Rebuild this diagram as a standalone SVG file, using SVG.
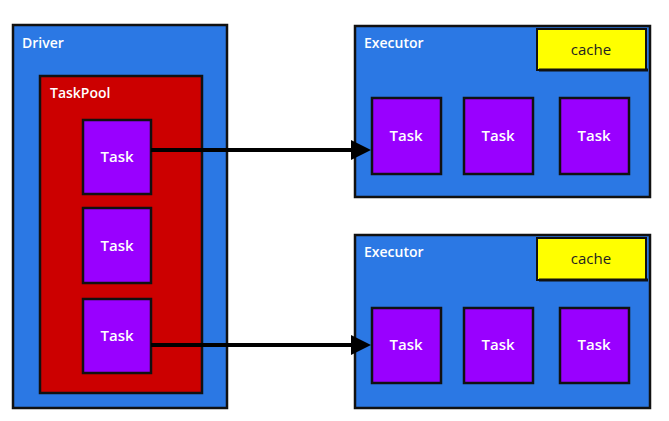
<svg xmlns="http://www.w3.org/2000/svg" width="669" height="421" viewBox="0 0 669 421">
<defs>
<style>
.blue{fill:#2b78e4;stroke:#111;stroke-width:2.5}
.red{fill:#cc0000;stroke:#111;stroke-width:2.5}
.task{fill:#9900ff;stroke:#111;stroke-width:2.5}
.cache{fill:#ffff00;stroke:#111;stroke-width:2}
.lbl{font-family:"Open Sans","DejaVu Sans",sans-serif;font-size:14px;font-weight:600;fill:#fff}
.tt{font-family:"Open Sans","DejaVu Sans",sans-serif;font-size:15px;font-weight:600;fill:#fff;text-anchor:middle}
.ct{font-family:"Open Sans","DejaVu Sans",sans-serif;font-size:15px;fill:#222;text-anchor:middle}
.conn{stroke:#000;stroke-width:4;fill:none}
</style>
<marker id="ah" markerWidth="5" markerHeight="5" refX="4" refY="2.5" orient="auto" markerUnits="strokeWidth">
<path d="M0,0 L5,2.5 L0,5 Z" fill="#000"/>
</marker>
</defs>
<rect width="669" height="421" fill="#fff"/>
<g id="driver">
<rect class="blue" x="13" y="25" width="214" height="383"/>
<text class="lbl" x="22" y="48">Driver</text>
</g>
<g id="taskpool">
<rect class="red" x="40" y="76" width="162" height="317"/>
<text class="lbl" x="50" y="98">TaskPool</text>
</g>
<g id="dtask1"><rect class="task" x="83" y="120" width="68" height="74"/><text class="tt" x="117" y="162">Task</text></g>
<g id="dtask2"><rect class="task" x="83" y="208" width="68" height="75"/><text class="tt" x="117" y="251">Task</text></g>
<g id="dtask3"><rect class="task" x="83" y="299" width="68" height="74"/><text class="tt" x="117" y="341">Task</text></g>
<g id="executor1">
<rect class="blue" x="355" y="26" width="295" height="171"/>
<text class="lbl" x="364" y="48">Executor</text>
</g>
<g id="cache1"><rect class="cache" x="537" y="29" width="109" height="41"/><line x1="539" y1="70" x2="648" y2="70" stroke="#111" stroke-width="3"/><text class="ct" x="591" y="55">cache</text></g>
<g id="e1task1"><rect class="task" x="372" y="98" width="69" height="76"/><text class="tt" x="406" y="141">Task</text></g>
<g id="e1task2"><rect class="task" x="464" y="98" width="69" height="76"/><text class="tt" x="498" y="141">Task</text></g>
<g id="e1task3"><rect class="task" x="560" y="98" width="69" height="76"/><text class="tt" x="594" y="141">Task</text></g>
<g id="executor2">
<rect class="blue" x="355" y="235" width="295" height="173"/>
<text class="lbl" x="364" y="257">Executor</text>
</g>
<g id="cache2"><rect class="cache" x="537" y="238" width="109" height="42"/><line x1="539" y1="280" x2="648" y2="280" stroke="#111" stroke-width="3"/><text class="ct" x="591" y="264">cache</text></g>
<g id="e2task1"><rect class="task" x="372" y="308" width="69" height="75"/><text class="tt" x="406" y="350">Task</text></g>
<g id="e2task2"><rect class="task" x="464" y="308" width="69" height="75"/><text class="tt" x="498" y="350">Task</text></g>
<g id="e2task3"><rect class="task" x="560" y="308" width="69" height="75"/><text class="tt" x="594" y="350">Task</text></g>
<g id="connectors">
<line class="conn" x1="151" y1="150" x2="367" y2="150" marker-end="url(#ah)"/>
<line class="conn" x1="151" y1="345" x2="367" y2="345" marker-end="url(#ah)"/>
</g>
</svg>
